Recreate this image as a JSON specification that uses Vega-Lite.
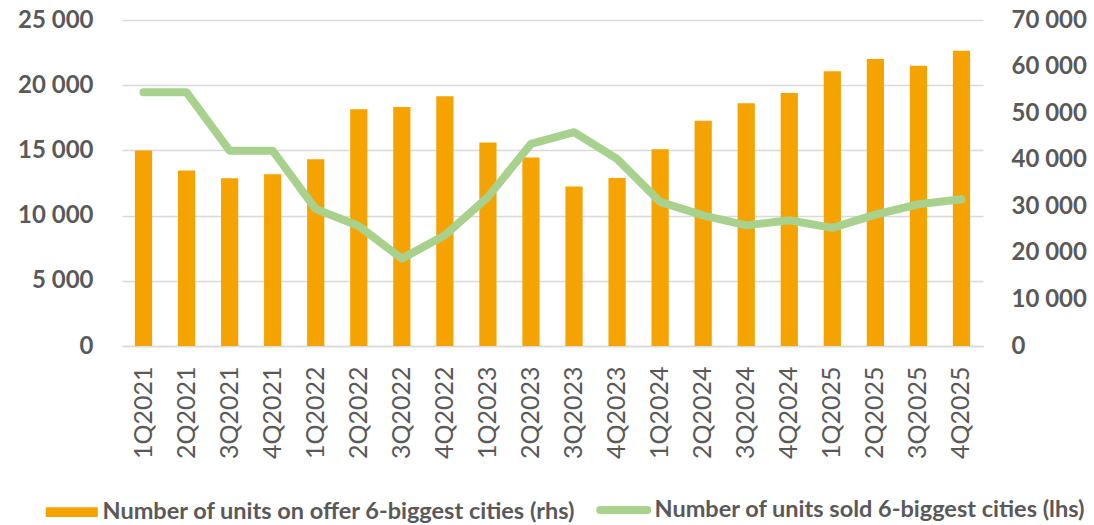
{
  "$schema": "https://vega.github.io/schema/vega-lite/v6.json",
  "autosize": {"type": "none"},
  "padding": {"left": 122, "top": 20, "right": 111, "bottom": 179},
  "width": 861,
  "height": 326,
  "background": "white",
  "config": {
    "view": {"stroke": null},
    "font": "Lato",
    "axis": {"labelColor": "#595959", "titleColor": "#595959", "ticks": false},
    "legend": {
      "labelFont": "Lato",
      "labelFontSize": 23.5,
      "labelFontWeight": "bold",
      "labelColor": "#595959",
      "labelLimit": 0
    }
  },
  "data": {
    "values": [
      {"q": "1Q2021", "offer": 42000, "sold": 19450},
      {"q": "2Q2021", "offer": 37700, "sold": 19450},
      {"q": "3Q2021", "offer": 36000, "sold": 14980},
      {"q": "4Q2021", "offer": 36900, "sold": 14980},
      {"q": "1Q2022", "offer": 40100, "sold": 10500},
      {"q": "2Q2022", "offer": 50850, "sold": 9200},
      {"q": "3Q2022", "offer": 51300, "sold": 6700},
      {"q": "4Q2022", "offer": 53650, "sold": 8500},
      {"q": "1Q2023", "offer": 43700, "sold": 11430},
      {"q": "2Q2023", "offer": 40500, "sold": 15500},
      {"q": "3Q2023", "offer": 34250, "sold": 16400},
      {"q": "4Q2023", "offer": 36100, "sold": 14350},
      {"q": "1Q2024", "offer": 42250, "sold": 11050},
      {"q": "2Q2024", "offer": 48350, "sold": 10020},
      {"q": "3Q2024", "offer": 52150, "sold": 9250},
      {"q": "4Q2024", "offer": 54300, "sold": 9640},
      {"q": "1Q2025", "offer": 59000, "sold": 9060},
      {"q": "2Q2025", "offer": 61600, "sold": 10080},
      {"q": "3Q2025", "offer": 60200, "sold": 10870},
      {"q": "4Q2025", "offer": 63400, "sold": 11250}
    ]
  },
  "encoding": {
    "x": {
      "field": "q",
      "type": "ordinal",
      "sort": null,
      "scale": {"paddingInner": 0.6, "paddingOuter": 0.3},
      "axis": {
        "title": null,
        "labelAngle": -90,
        "labelFont": "Lato",
        "labelFontSize": 25,
        "labelFontWeight": "normal",
        "labelPadding": 20,
        "domain": true,
        "domainColor": "#D9D9D9",
        "domainWidth": 1.5,
        "ticks": false
      }
    }
  },
  "layer": [
    {
      "mark": {"type": "bar", "color": "#F4A300"},
      "encoding": {
        "y": {
          "field": "offer",
          "type": "quantitative",
          "scale": {"domain": [0, 70000], "nice": false},
          "axis": {
            "orient": "right",
            "title": null,
            "values": [0, 10000, 20000, 30000, 40000, 50000, 60000, 70000],
            "labelExpr": "replace(format(datum.value, ','), ',', ' ')",
            "labelFont": "Lato",
            "labelFontSize": 24,
            "labelFontWeight": "bold",
            "labelPadding": 28,
            "domain": false,
            "grid": false,
            "ticks": false
          }
        },
        "color": {
          "datum": "Number of units on offer 6-biggest cities (rhs)",
          "type": "nominal",
          "scale": {
            "domain": ["Number of units on offer 6-biggest cities (rhs)", "Number of units sold 6-biggest cities (lhs)"],
            "range": ["#F4A300", "#A9D18E"]
          },
          "legend": {
            "title": null,
            "orient": "none",
            "legendX": -62,
            "legendY": 478,
            "direction": "horizontal",
            "columnPadding": 8,
            "labelOffset": 19,
            "symbolSize": 2704,
            "encode": {
              "symbols": {
                "update": {
                  "shape": {"signal": "datum.value === 'Number of units sold 6-biggest cities (lhs)' ? 'stroke' : 'M-1,-0.19H1V0.19H-1Z'"},
                  "size": {"signal": "datum.value === 'Number of units sold 6-biggest cities (lhs)' ? 2209 : 2704"},
                  "fill": {"signal": "datum.value === 'Number of units sold 6-biggest cities (lhs)' ? 'transparent' : '#F4A300'"},
                  "stroke": {"signal": "datum.value === 'Number of units sold 6-biggest cities (lhs)' ? '#A9D18E' : 'transparent'"},
                  "strokeWidth": {"signal": "datum.value === 'Number of units sold 6-biggest cities (lhs)' ? 8 : 0"},
                  "strokeCap": {"value": "round"},
                  "opacity": {"value": 1}
                }
              }
            }
          }
        }
      }
    },
    {
      "mark": {"type": "line", "strokeWidth": 8, "strokeCap": "round", "strokeJoin": "round"},
      "encoding": {
        "y": {
          "field": "sold",
          "type": "quantitative",
          "scale": {"domain": [0, 25000], "nice": false},
          "axis": {
            "orient": "left",
            "title": null,
            "values": [0, 5000, 10000, 15000, 20000, 25000],
            "labelExpr": "replace(format(datum.value, ','), ',', ' ')",
            "labelFont": "Lato",
            "labelFontSize": 24,
            "labelFontWeight": "bold",
            "labelPadding": 29,
            "domain": false,
            "grid": true,
            "gridColor": "#D9D9D9",
            "gridWidth": 1.5,
            "ticks": false
          }
        },
        "color": {
          "datum": "Number of units sold 6-biggest cities (lhs)",
          "type": "nominal"
        }
      }
    }
  ],
  "resolve": {"scale": {"y": "independent"}}
}
